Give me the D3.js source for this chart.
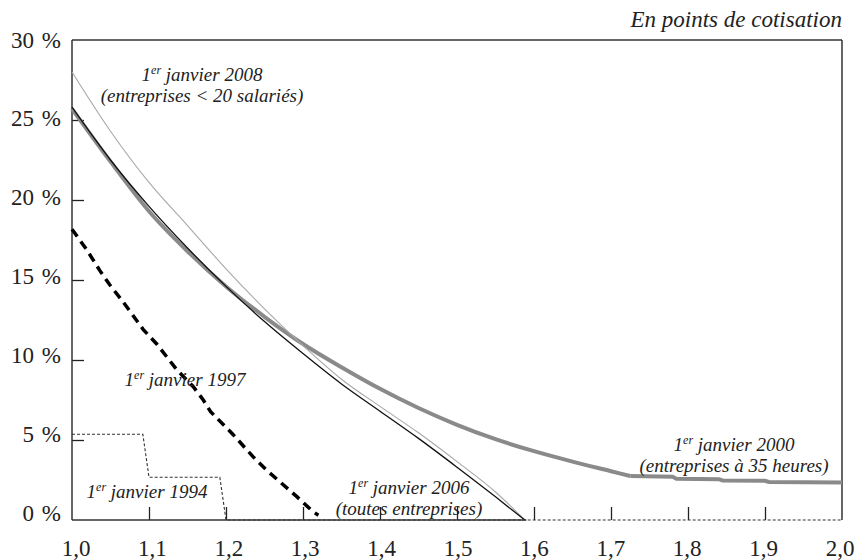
<!DOCTYPE html>
<html><head><meta charset="utf-8">
<script src="https://cdn.jsdelivr.net/npm/d3@7"></script>
<style>
body{margin:0;background:#fff;}
text{font-family:"Liberation Serif","Times New Roman",Times,serif;fill:#222;}
</style></head>
<body><svg id="c" width="859" height="560"></svg>
<script>
// ---- data ----
const xTicks = [1.0,1.1,1.2,1.3,1.4,1.5,1.6,1.7,1.8,1.9,2.0];
const xTickLabels = ["1,0","1,1","1,2","1,3","1,4","1,5","1,6","1,7","1,8","1,9","2,0"];
const yTicks = [0,5,10,15,20,25,30];
const yTickLabels = ["0 %","5 %","10 %","15 %","20 %","25 %","30 %"];

const s1994_x = [1.0,1.092,1.1,1.192,1.2,2.0];
const s1994_y = [5.36,5.36,2.67,2.67,0,0];

const s1997_x = [1.0,1.019,1.036,1.049,1.0645,1.0775,1.0926,1.11,1.123,1.136,1.1575,1.1705,1.18,1.21,1.235,1.253,1.292,1.313,1.32];
const s1997_y = [18.17,16.9,15.6,14.7,13.75,12.9,11.9,11.0,10.2,9.4,8.33,7.5,6.77,5.3,3.96,3.1,1.46,0.52,0.3];

const s2000_x = [1.0,1.05,1.1,1.15,1.2,1.25,1.3,1.35,1.4,1.45,1.5,1.55,1.6,1.65,1.7,1.725];
const s2000_y = [25.7,22.4,19.3,16.8,14.6,12.7,11.0,9.55,8.2,7.0,5.95,5.05,4.3,3.65,3.05,2.75];
const s2000_tail_x = [1.725,1.78,1.785,1.84,1.845,1.9,1.905,2.0];
const s2000_tail_y = [2.75,2.7,2.58,2.55,2.47,2.45,2.38,2.35];

const s2006_x = [1.0,1.05,1.1,1.15,1.2,1.25,1.3,1.35,1.4,1.45,1.5,1.55,1.588];
const s2006_y = [25.8,22.5,19.6,17.0,14.6,12.4,10.4,8.5,6.8,5.1,3.3,1.45,0];

const s2008_x = [1.0,1.05,1.1,1.15,1.2,1.25,1.3,1.35,1.4,1.45,1.5,1.55,1.588];
const s2008_y = [28.0,24.3,21.1,18.4,15.7,13.2,10.9,8.8,7.1,5.45,3.65,1.75,0];

const title = "En points de cotisation";

// ---- layout ----
const svg = d3.select("#c");
const L=72, R=842, T=40, B=520;
const x = d3.scaleLinear().domain([1.0,2.0]).range([L,R]);
const y = d3.scaleLinear().domain([0,30]).range([B,T]);
// label placement scales (labels in the reference are spaced slightly tighter than ticks)
const xLab = d3.scaleLinear().domain([1.0,2.0]).range([76,840]);
const yLab = d3.scaleLinear().domain([0,30]).range([513,40]);

const xAxis = d3.axisBottom(x).tickValues(xTicks.slice(1,-1)).tickSize(-13).tickFormat("");
const gx = svg.append("g").attr("transform",`translate(0,${B})`).call(xAxis);
gx.select(".domain").remove();
gx.selectAll("line").attr("stroke","#222").attr("stroke-width",1.3);

const yAxis = d3.axisLeft(y).tickValues(yTicks.slice(1,-1)).tickSize(-12).tickFormat("");
const gy = svg.append("g").attr("transform",`translate(${L},0)`).call(yAxis);
gy.select(".domain").remove();
gy.selectAll("line").attr("stroke","#222").attr("stroke-width",1.3);

svg.append("g").selectAll("text").data(xTicks).join("text")
  .attr("x",d=>xLab(d)).attr("y",556).attr("text-anchor","middle")
  .attr("font-size",23).text((d,i)=>xTickLabels[i]);
svg.append("g").selectAll("text").data(yTicks).join("text")
  .attr("x",61).attr("y",d=>yLab(d)+7.5).attr("text-anchor","end")
  .attr("font-size",23).style("word-spacing","2px").text((d,i)=>yTickLabels[i]);

// frame
const fr = svg.append("g").attr("stroke","#333").attr("stroke-width",1.5).attr("fill","none");
fr.append("line").attr("x1",L).attr("x2",L).attr("y1",T).attr("y2",B);
fr.append("line").attr("x1",L).attr("x2",R).attr("y1",T).attr("y2",T);
fr.append("line").attr("x1",R).attr("x2",R).attr("y1",T).attr("y2",B);
fr.append("line").attr("x1",L).attr("x2",x(1.59)).attr("y1",B).attr("y2",B);

function series(xs,ys){return xs.map((v,i)=>[v,ys[i]]);}
const lineLin = d3.line().x(d=>x(d[0])).y(d=>y(d[1]));
const lineSm = d3.line().x(d=>x(d[0])).y(d=>y(d[1])).curve(d3.curveMonotoneX);

svg.append("path").datum(series(s1994_x,s1994_y)).attr("d",lineLin)
  .attr("fill","none").attr("stroke","#333").attr("stroke-width",1.1).attr("stroke-dasharray","3,2");
svg.append("path").datum(series(s2000_x,s2000_y)).attr("d",lineSm)
  .attr("fill","none").attr("stroke","#8a8a8a").attr("stroke-width",4);
svg.append("path").datum(series(s2000_tail_x,s2000_tail_y)).attr("d",lineLin)
  .attr("fill","none").attr("stroke","#8a8a8a").attr("stroke-width",4);
svg.append("path").datum(series(s2008_x,s2008_y)).attr("d",lineSm)
  .attr("fill","none").attr("stroke","#a8a8a8").attr("stroke-width",1.1);
svg.append("path").datum(series(s2006_x,s2006_y)).attr("d",lineSm)
  .attr("fill","none").attr("stroke","#111").attr("stroke-width",1.3);
svg.append("path").datum(series(s1997_x,s1997_y)).attr("d",lineLin)
  .attr("fill","none").attr("stroke","#000").attr("stroke-width",3.5).attr("stroke-dasharray","9,6");

// title
svg.append("text").attr("x",R).attr("y",27).attr("text-anchor","end")
  .attr("font-size",23).attr("font-style","italic").text(title);

// annotations
function label(cx, base, year, sub, gap){
  const t = svg.append("text").attr("x",cx).attr("y",base).attr("text-anchor","middle")
    .attr("font-size",19).attr("font-style","italic");
  t.append("tspan").text("1");
  t.append("tspan").attr("font-size",12).attr("dy",-7).text("er");
  t.append("tspan").attr("dy",7).text(" janvier " + year);
  if(sub){
    svg.append("text").attr("x",cx).attr("y",base+gap).attr("text-anchor","middle")
      .attr("font-size",19).attr("font-style","italic").text(sub);
  }
}
label(202, 81, "2008", "(entreprises < 20 salariés)", 21);
label(185, 386, "1997", null);
label(147, 498, "1994", null);
label(409, 494, "2006", "(toutes entreprises)", 21);
label(734, 451, "2000", "(entreprises à 35 heures)", 21);
</script></body></html>
